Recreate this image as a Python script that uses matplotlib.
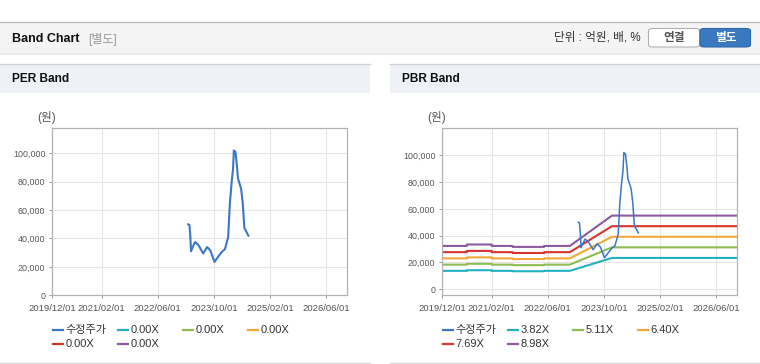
import numpy as np
import pandas as pd
import matplotlib.pyplot as plt
from matplotlib.patches import Rectangle, FancyBboxPatch
from matplotlib.lines import Line2D
from matplotlib.ticker import FuncFormatter

plt.rcParams['font.family'] = ['Liberation Sans', 'Noto Sans CJK KR', 'DejaVu Sans']

# 수정주가 (adjusted price)
price_dates = ['2023-02-21', '2023-03-03', '2023-03-10', '2023-03-17', '2023-03-24',
               '2023-04-21', '2023-05-19', '2023-06-30', '2023-08-04', '2023-09-01',
               '2023-10-06', '2023-11-10', '2023-12-08', '2024-01-05', '2024-02-02',
               '2024-02-16', '2024-03-01', '2024-03-15', '2024-03-22', '2024-04-05',
               '2024-04-19', '2024-04-26', '2024-05-24', '2024-06-07', '2024-06-21',
               '2024-07-26']
price = [50000, 49500, 43000, 31000, 32500,
         37500, 35500, 29500, 34000, 31500,
         23500, 27500, 30500, 32500, 41000,
         64000, 78000, 89000, 102000, 101000,
         90000, 82500, 75000, 65000, 47500,
         42000]

# BPS behind the PBR bands (breakpoints)
bps_dates = ['2019-12-01', '2020-07-01', '2020-07-01', '2021-02-01', '2021-02-01',
             '2021-08-01', '2021-08-01', '2022-05-01', '2022-05-01', '2022-12-10',
             '2023-12-10', '2026-11-30']
bps = [3600, 3600, 3720, 3720, 3600,
       3600, 3520, 3520, 3600, 3600,
       6120, 6120]

per_multiples = [0.00, 0.00, 0.00, 0.00, 0.00]
pbr_multiples = [3.82, 5.11, 6.40, 7.69, 8.98]

x_ticks = ['2019-12-01', '2021-02-01', '2022-06-01', '2023-10-01', '2025-02-01', '2026-06-01']
x_labels = ['2019/12/01', '2021/02/01', '2022/06/01', '2023/10/01', '2025/02/01', '2026/06/01']
y_ticks = [0, 20000, 40000, 60000, 80000, 100000]

price_color = '#3a77c6'
band_colors = ['#22b1c1', '#8fbb52', '#f2a838', '#d5352d', '#8c5a9e']

W, H = 760, 364
fig = plt.figure(figsize=(W / 100, H / 100), dpi=100)


def fx(x):
    return x / W


def fy(y):
    return 1 - y / H


def box(x0, y0, x1, y1, **kw):
    fig.add_artist(Rectangle((fx(x0), fy(y1)), (x1 - x0) / W, (y1 - y0) / H,
                             transform=fig.transFigure, **kw))


def hline(x0, x1, y, **kw):
    fig.add_artist(Line2D([fx(x0), fx(x1)], [fy(y), fy(y)], transform=fig.transFigure, **kw))


# top header bar
box(0, 22, 760, 52, fc='#f4f4f4', ec='none')
hline(0, 760, 22, color='#bdbdbd', lw=1)
hline(0, 760, 52.5, color='#c4c4c4', lw=1)
hline(0, 760, 54, color='#ebebeb', lw=1.5)
fig.text(fx(12), fy(39), 'Band Chart', fontsize=9, weight='bold', color='#111', va='center')
fig.text(fx(88), fy(39), '[별도]', fontsize=8.6, color='#999999', va='center')
fig.text(fx(641), fy(38), '단위 : 억원, 배, %', fontsize=8.4, color='#333333', va='center', ha='right')
fig.add_artist(FancyBboxPatch((fx(648.5), fy(47)), 51 / W, 18.5 / H, boxstyle='round,pad=0,rounding_size=0.006',
                              transform=fig.transFigure, fc='white', ec='#b0b0b0', lw=0.8))
fig.add_artist(FancyBboxPatch((fx(700), fy(47)), 50.5 / W, 18.5 / H, boxstyle='round,pad=0,rounding_size=0.006',
                              transform=fig.transFigure, fc='#3a79bf', ec='#2f69ab', lw=0.8))
fig.text(fx(674), fy(38), '연결', fontsize=8.4, weight='bold', color='#555555', va='center', ha='center')
fig.text(fx(725.5), fy(38), '별도', fontsize=8.4, weight='bold', color='white', va='center', ha='center')

# panel headers
for px, title in [(0, 'PER Band'), (390, 'PBR Band')]:
    box(px, 64, px + 370, 93, fc='#eef2f7', ec='none')
    hline(px, px + 370, 63.5, color='#d2d2d2', lw=1)
    hline(px, px + 370, 362.5, color='#d8d8d8', lw=1)
    fig.text(fx(px + 12), fy(79), title, fontsize=8.6, weight='bold', color='#111', va='center')
    fig.text(fx(px + 37), fy(118), '(원)', fontsize=8.4, color='#555555', va='center')

axL = fig.add_axes([fx(52.3), fy(295.3), 295 / W, 167 / H])
axR = fig.add_axes([fx(442.3), fy(295.3), 295 / W, 167 / H])

pd_price = pd.to_datetime(price_dates)
pd_bps = pd.to_datetime(bps_dates)
bps_arr = np.array(bps, dtype=float)


def style(ax, ylim):
    ax.set_xlim(pd.Timestamp('2019-12-01'), pd.Timestamp('2026-11-30'))
    ax.set_ylim(*ylim)
    ax.set_xticks(pd.to_datetime(x_ticks))
    ax.set_xticklabels(x_labels)
    ax.set_yticks(y_ticks)
    ax.yaxis.set_major_formatter(FuncFormatter(lambda v, p: '{:,.0f}'.format(v)))
    ax.grid(color='#e6e6e6', lw=0.8)
    ax.set_axisbelow(True)
    for s in ax.spines.values():
        s.set_color('#b3b3b3')
        s.set_linewidth(0.9)
    ax.tick_params(length=2.5, width=0.7, color='#999999',
                   labelcolor='#555555', pad=2.5)
    ax.tick_params(axis='y', labelsize=6.4)
    ax.tick_params(axis='x', labelsize=6.8, pad=4)


def legend(x0, labels, colors):
    for i, (lab, c) in enumerate(zip(labels, colors)):
        r, k = divmod(i, 4)
        x = x0 + 52.7 + k * 65
        y = 330 + r * 14.3
        hline(x, x + 10.6, y, color=c, lw=1.6)
        fig.text(fx(x + 13), fy(y), lab, fontsize=8.0, color='#333333', va='center')


# PER band (no bands drawn: multiples are all zero)
axL.plot(pd_price, price, color=price_color, lw=1.5)
style(axL, (0, 117600))
legend(0, ['수정주가'] + ['{:.2f}X'.format(m) for m in per_multiples], [price_color] + band_colors)

# PBR band
for m, c in zip(pbr_multiples, band_colors):
    axR.plot(pd_bps, bps_arr * m, color=c, lw=1.5)
axR.plot(pd_price, price, color=price_color, lw=1.1)
style(axR, (-4500, 120100))
legend(390, ['수정주가'] + ['{:.2f}X'.format(m) for m in pbr_multiples], [price_color] + band_colors)

fig.savefig('out.png', dpi=100)
